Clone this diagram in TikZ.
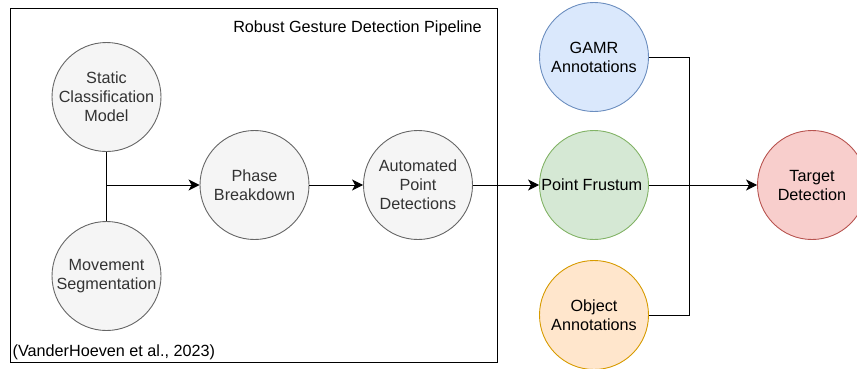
\documentclass[tikz,border=0pt]{standalone}
\usepackage{fontspec}
\setmainfont{Liberation Sans}
\usetikzlibrary{arrows.meta}

\definecolor{greyfill}{HTML}{F5F5F5}
\definecolor{greyline}{HTML}{666666}
\definecolor{greytext}{HTML}{333333}
\definecolor{bluefill}{HTML}{DAE8FC}
\definecolor{blueline}{HTML}{6C8EBF}
\definecolor{greenfill}{HTML}{D5E8D4}
\definecolor{greenline}{HTML}{82B366}
\definecolor{orangefill}{HTML}{FFE6CC}
\definecolor{orangeline}{HTML}{D79B00}
\definecolor{redfill}{HTML}{F8CECC}
\definecolor{redline}{HTML}{B85450}

\begin{document}
\begin{tikzpicture}[x=1pt,y=-1pt,
	font=\fontsize{16.2}{19}\selectfont,
	stage/.style={circle, minimum size=109pt, inner sep=0pt, align=center, line width=0.9pt},
	greystage/.style={stage, draw=greyline, fill=greyfill, text=greytext},
	flow/.style={line width=1pt, -{Stealth[length=11pt,width=11pt,inset=3pt]}},
	link/.style={line width=1pt}]
	\useasboundingbox (0,0) rectangle (857,368);
	
	\draw[line width=1pt] (10.5,8) rectangle (497.5,362);
	
	\draw (106.5,97) node[greystage] (static)
	{
		Static \\
		Classification \\
		Model
	};
	
	\draw (106.5,276) node[greystage] (movement)
	{
		Movement \\
		Segmentation
	};
	
	\draw (254.5,185) node[greystage] (phase)
	{
		Phase \\
		Breakdown
	};
	
	\draw (418,185) node[greystage] (automated)
	{
		Automated \\
		Point \\
		Detections
	};
	
	\draw (594,57) node[stage, draw=blueline, fill=bluefill] (gamr)
	{
		GAMR \\
		Annotations
	};
	
	\draw (594,185) node[stage, draw=greenline, fill=greenfill] (frustum)
	{
		Point Frustum
	};
	
	\draw (594,315) node[stage, draw=orangeline, fill=orangefill] (object)
	{
		Object \\
		Annotations
	};
	
	\draw (812,185) node[stage, draw=redline, fill=redfill] (target)
	{
		Target \\
		Detection
	};
	
	\coordinate (join) at (106.5,185);
	\coordinate (merge) at (689,185);
	
	\draw [link] (static) -- (movement);
	\draw [flow] (join) -- (phase);
	\draw [flow] (phase) -- (automated);
	\draw [flow] (automated) -- (frustum);
	\draw [link] (gamr.east) -| (merge);
	\draw [link] (object.east) -| (merge);
	\draw [flow] (frustum) -- (target);
	
	\draw (482,28) node[anchor=east, inner sep=0pt] (title)
	{
		Robust Gesture Detection Pipeline
	};
	
	\draw (12.5,352) node[anchor=west, inner sep=0pt] (citation)
	{
		(VanderHoeven et al., 2023)
	};
\end{tikzpicture}
\end{document}
